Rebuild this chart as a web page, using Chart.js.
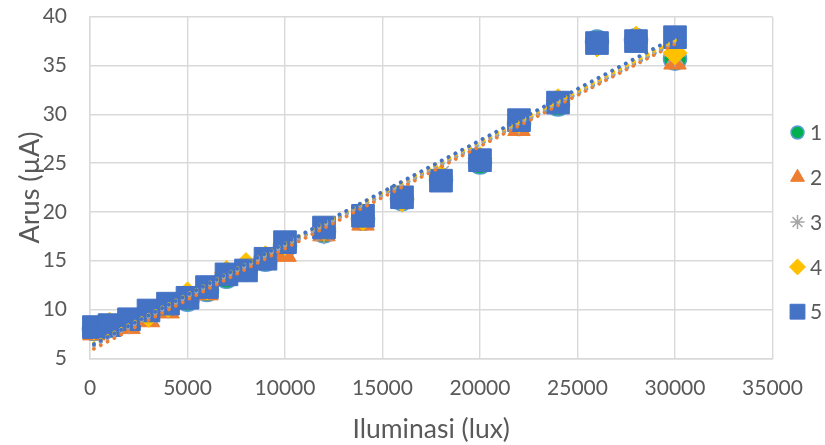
<!DOCTYPE html>
<html>
<head>
<meta charset="utf-8">
<title>Arus vs Iluminasi</title>
<script src="https://cdn.jsdelivr.net/npm/chart.js@4.4.1/dist/chart.umd.min.js"></script>
<style>
    body { margin: 0; background: #ffffff; }
    #chartBox { width: 825px; height: 445px; }
</style>
</head>
<body>
<div id="chartBox"><canvas id="arusChart" width="825" height="445"></canvas></div>
<script>
// illuminance values (lux), shared by all five series
const iluminasi = [200, 1000, 2000, 3000, 4000, 5000, 6000, 7000, 8000, 9000, 10000,
    12000, 14000, 16000, 18000, 20000, 22000, 24000, 26000, 28000, 30000];

// current (uA) per measurement series
const arus1 = [8.0, 8.3, 8.8, 9.6, 10.4, 11.0, 12.0, 13.35, 14.1, 15.1, 16.5,
    18.0, 19.3, 21.3, 23.3, 25.05, 29.0, 31.0, 37.45, 37.6, 35.7];
const arus2 = [7.55, 8.1, 8.2, 8.9, 9.8, 10.9, 11.65, 13.5, 14.2, 15.0, 15.6,
    17.7, 18.8, 21.2, 23.4, 25.2, 28.5, 31.0, 37.2, 37.5, 35.3];
const arus3 = [8.0, 8.3, 8.6, 9.4, 10.2, 11.1, 12.1, 13.5, 14.1, 15.1, 16.6,
    17.8, 19.2, 21.1, 23.9, 25.3, 29.0, 31.1, 37.3, 37.6, 36.0];
const arus4 = [8.1, 8.5, 8.9, 9.4, 10.4, 11.6, 12.2, 13.8, 14.6, 15.3, 16.8,
    18.3, 19.3, 21.25, 23.6, 25.45, 29.3, 31.4, 37.1, 37.8, 36.3];
const arus5 = [8.2, 8.4, 9.0, 9.9, 10.6, 11.2, 12.3, 13.6, 14.0, 15.2, 16.9,
    18.4, 19.6, 21.5, 23.2, 25.3, 29.4, 31.2, 37.3, 37.5, 37.9];

const seriesNames = ["1", "2", "3", "4", "5"];
const seriesValues = [arus1, arus2, arus3, arus4, arus5];

const xTicks = [0, 5000, 10000, 15000, 20000, 25000, 30000, 35000];
const yTicks = [5, 10, 15, 20, 25, 30, 35, 40];

const markerStyles = [
    { pointStyle: "circle", radius: 11.5, fill: "#00B050", stroke: "#5B9BD5", width: 1.5, line: "#5B9BD5" },
    { pointStyle: "triangle", radius: 13, fill: "#ED7D31", stroke: "#ED7D31", width: 1, line: "#ED7D31" },
    { pointStyle: "star", radius: 11, fill: "#A5A5A5", stroke: "#A5A5A5", width: 1.5, line: "#A5A5A5" },
    { pointStyle: "rectRot", radius: 12, fill: "#FFC000", stroke: "#FFC000", width: 1, line: "#FFC000" },
    { pointStyle: "rect", radius: 16, fill: "#4472C4", stroke: "#4472C4", width: 1, line: "#4472C4" },
];

const fontFamily = "Lato, 'Open Sans', sans-serif";
const textColor = "#595959";
const gridColor = "#d9d9d9";

// least squares line over the data, like the excel linear trendline
const fitLine = (xs, ys) => {
    const n = xs.length;
    const mx = xs.reduce((a, b) => a + b, 0) / n;
    const my = ys.reduce((a, b) => a + b, 0) / n;
    let sxy = 0, sxx = 0;
    xs.forEach((x, i) => {
        sxy += (x - mx) * (ys[i] - my);
        sxx += (x - mx) * (x - mx);
    });
    const slope = sxy / sxx;
    const xMin = Math.min(...xs);
    const xMax = Math.max(...xs);
    return [
        { x: xMin, y: my + slope * (xMin - mx) },
        { x: xMax, y: my + slope * (xMax - mx) },
    ];
}

const pointDatasets = seriesValues.map((values, i) => ({
    label: seriesNames[i],
    data: iluminasi.map((x, j) => ({ x: x, y: values[j] })),
    pointStyle: markerStyles[i].pointStyle,
    pointRadius: markerStyles[i].radius,
    pointBackgroundColor: markerStyles[i].fill,
    pointBorderColor: markerStyles[i].stroke,
    pointBorderWidth: markerStyles[i].width,
    showLine: false,
    clip: false,
    order: 10 - i,
}));

const trendDatasets = seriesValues.map((values, i) => ({
    type: "line",
    label: "Linear (" + seriesNames[i] + ")",
    data: fitLine(iluminasi, values),
    borderColor: markerStyles[i].line,
    borderWidth: 4,
    borderDash: [0.01, 7.7],
    borderCapStyle: "round",
    pointRadius: 0,
    fill: false,
    order: 5 - i,
}));

// legend on the right, markers only (trendlines are not listed)
const sideLegend = {
    id: "sideLegend",
    afterDraw: (chart) => {
        const ctx = chart.ctx;
        const legendSizes = [6.5, 8, 7, 8, 10.5];
        ctx.save();
        seriesNames.forEach((name, i) => {
            const y = 132.5 + i * 44.8;
            const st = markerStyles[i];
            ctx.fillStyle = st.fill;
            ctx.strokeStyle = st.stroke;
            ctx.lineWidth = st.width;
            Chart.helpers.drawPoint(ctx, {
                pointStyle: st.pointStyle,
                radius: legendSizes[i],
                rotation: 0,
                borderWidth: st.width,
            }, 797.5, y);
            ctx.fillStyle = textColor;
            ctx.font = "21px " + fontFamily;
            ctx.textAlign = "left";
            ctx.textBaseline = "middle";
            ctx.fillText(name, 810, y + 1);
        });
        ctx.restore();
    }
}

const arusChart = new Chart(document.getElementById("arusChart").getContext("2d"), {
    type: "scatter",
    data: {
        datasets: [...pointDatasets, ...trendDatasets],
    },
    options: {
        responsive: false,
        animation: false,
        layout: {
            autoPadding: false,
            padding: { top: 16.7, right: 52.5, bottom: 0, left: 0 },
        },
        plugins: {
            legend: { display: false },
            tooltip: { enabled: false },
        },
        scales: {
            x: {
                type: "linear",
                min: 0,
                max: 35000,
                afterBuildTicks: (axis) => {
                    axis.ticks = xTicks.map(v => ({ value: v }));
                },
                afterFit: (axis) => {
                    axis.height = 86.7;
                },
                grid: { color: gridColor, lineWidth: 1.4, drawTicks: false },
                border: { color: gridColor, width: 1.4 },
                ticks: {
                    padding: 17,
                    color: textColor,
                    font: { family: fontFamily, size: 21 },
                    callback: (value) => String(value),
                },
                title: {
                    display: true,
                    text: "Iluminasi (lux)",
                    color: textColor,
                    font: { family: fontFamily, size: 26.5, lineHeight: 1.1 },
                    padding: { top: 0, bottom: 0.5 },
                },
            },
            y: {
                type: "linear",
                min: 5,
                max: 40,
                afterBuildTicks: (axis) => {
                    axis.ticks = yTicks.map(v => ({ value: v }));
                },
                afterFit: (axis) => {
                    // fixed width, and the label gap should not push the plot down
                    axis.width = 90;
                    axis.paddingTop = 12;
                    axis.paddingBottom = 12;
                },
                grid: { color: gridColor, lineWidth: 1.4, drawTicks: false },
                border: { color: gridColor, width: 1.4 },
                ticks: {
                    padding: 23,
                    color: textColor,
                    font: { family: fontFamily, size: 21 },
                },
                title: {
                    display: true,
                    text: "Arus (µA)",
                    color: textColor,
                    font: { family: fontFamily, size: 27, lineHeight: 1.1 },
                    padding: { top: 15, bottom: 0 },
                },
            },
        },
    },
    plugins: [sideLegend],
});
</script>
</body>
</html>
